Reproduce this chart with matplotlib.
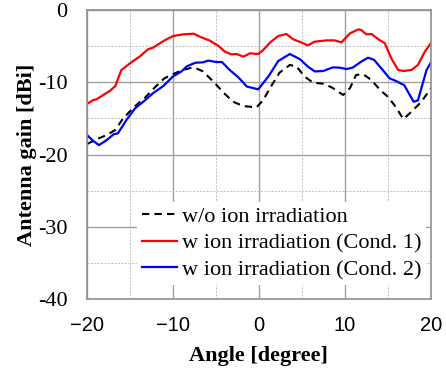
import matplotlib
matplotlib.use('Agg')
import matplotlib.pyplot as plt
from matplotlib.ticker import MultipleLocator, FuncFormatter

# angles [degree] and gains [dBi]
angle_wo = [-20, -18.9, -17.7, -16.7, -15.8, -14.4, -13.3, -12.1, -11.0, -10.0, -8.8, -7.8, -7.3,
            -6.5, -5.1, -4.15, -3.0, -1.8, -0.27, 0.5, 1.5, 2.4, 3.6, 4.4, 5.3, 6.3, 7.5, 8.45,
            9.8, 10.6, 11.3, 12.1, 13.1, 14.1, 15.0, 15.9, 16.8, 17.75, 18.9, 20]
gain_wo = [-18.55, -17.9, -17.3, -16.6, -15.0, -13.3, -12.2, -10.7, -9.46, -8.86, -8.3, -7.98, -8.07,
           -8.5, -10.15, -11.4, -12.7, -13.3, -13.47, -12.46, -10.4, -8.67, -7.6, -7.84, -9.2, -10.06,
           -10.2, -10.7, -11.76, -10.8, -9.0, -8.86, -9.7, -11.07, -12.0, -13.38, -15.1, -14.07, -12.7, -10.84]

angle_c1 = [-20, -19.26, -18.9, -18.1, -17.3, -16.7, -16.0, -15.0, -13.8, -12.9, -12.3, -10.9, -9.96,
            -8.8, -7.6, -6.7, -5.7, -4.7, -3.95, -3.2, -2.6, -1.8, -1.05, -0.08, 0.5, 1.28, 2.25,
            3.2, 4.0, 4.8, 5.7, 6.5, 7.9, 8.8, 9.6, 10.6, 11.55, 11.9, 12.5, 13.1, 13.9, 14.65,
            15.4, 16.2, 16.8, 17.75, 18.5, 19.3, 20]
gain_c1 = [-13.0, -12.46, -12.37, -11.76, -11.16, -10.52, -8.3, -7.38, -6.37, -5.44, -5.2, -4.15, -3.6,
           -3.37, -3.28, -3.78, -4.24, -4.98, -5.77, -6.14, -6.09, -6.46, -6.0, -6.09, -5.54, -4.52, -3.6,
           -3.32, -4.06, -4.43, -4.89, -4.38, -4.2, -4.2, -4.48, -3.23, -2.68, -2.77, -3.37, -3.32, -4.06,
           -4.6, -6.7, -8.3, -8.44, -8.3, -7.6, -5.77, -4.6]

angle_c2 = [-20, -19.26, -18.6, -17.7, -16.9, -16.4, -15.4, -14.4, -13.45, -12.3, -11.1, -10.0, -9.0,
            -8.4, -7.4, -6.5, -5.9, -4.96, -4.3, -3.4, -2.4, -1.4, -0.85, -0.08, 1.1, 2.25, 3.6,
            4.8, 5.7, 6.5, 7.5, 8.6, 9.4, 10.2, 10.9, 11.9, 12.7, 13.4, 14.4, 15.2, 15.9, 16.9,
            18.0, 18.5, 19.5, 20]
gain_c2 = [-17.3, -18.13, -18.7, -18.0, -17.2, -17.07, -15.2, -13.6, -12.7, -11.5, -10.5, -9.2, -8.5,
           -7.8, -7.3, -7.24, -7.0, -7.2, -7.2, -8.3, -9.3, -10.6, -10.75, -10.98, -9.2, -7.06, -6.09,
           -6.83, -7.84, -8.5, -8.44, -7.94, -7.98, -8.17, -7.98, -7.15, -6.6, -6.9, -8.3, -9.46, -9.8,
           -10.4, -12.7, -12.5, -8.3, -7.3]

labels = ['w/o ion irradiation', 'w ion irradiation (Cond. 1)', 'w ion irradiation (Cond. 2)']

serif = ['Liberation Serif', 'DejaVu Serif']

fig = plt.figure(figsize=(4.46, 3.68), dpi=100)
ax = fig.add_axes([0.195, 0.1875, 0.771, 0.7853])

ax.plot(angle_wo, gain_wo, color='black', lw=1.5, linestyle=(0, (3.5, 2.5)), label=labels[0])
ax.plot(angle_c1, gain_c1, color='#ff0000', lw=1.6, label=labels[1])
ax.plot(angle_c2, gain_c2, color='#0000ff', lw=1.6, label=labels[2])

ax.set_xlim(-20, 20)
ax.set_ylim(-40, 0)
ax.xaxis.set_major_locator(MultipleLocator(10))
ax.xaxis.set_minor_locator(MultipleLocator(5))
ax.yaxis.set_major_locator(MultipleLocator(10))
ax.yaxis.set_minor_locator(MultipleLocator(5))
ax.grid(which='major', color='#a0a0a0', lw=1.0, ls='-')
ax.grid(which='minor', color='#c0c0c0', lw=0.7, ls=(0, (2, 1.5)))
ax.set_axisbelow(True)
for s in ax.spines.values():
    s.set_color('#909090')
    s.set_linewidth(1.2)

ax.tick_params(which='both', length=0)
ax.tick_params(axis='y', pad=14)
ax.tick_params(axis='x', pad=12)
ax.yaxis.set_major_formatter(FuncFormatter(lambda v, p: '%d' % v))
for t in ax.get_yticklabels():
    t.set_family(serif)
    t.set_fontsize(16)
for t in ax.get_xticklabels():
    t.set_family(['Liberation Sans', 'DejaVu Sans'])
    t.set_fontsize(14.5)

ax.set_xlabel('Angle [degree]', family=serif, fontsize=16, fontweight='bold', labelpad=8)
ax.set_ylabel('Antenna gain [dBi]', family=serif, fontsize=16, fontweight='bold', labelpad=0.5)

leg = ax.legend(loc='lower right', bbox_to_anchor=(0.985, 0.05), borderaxespad=0,
                prop={'family': serif, 'size': 16}, frameon=True, fancybox=False,
                framealpha=1, edgecolor='none', handlelength=1.6, handletextpad=0.2,
                labelspacing=0.28, borderpad=0.2)

fig.savefig('out.png', dpi=100)
